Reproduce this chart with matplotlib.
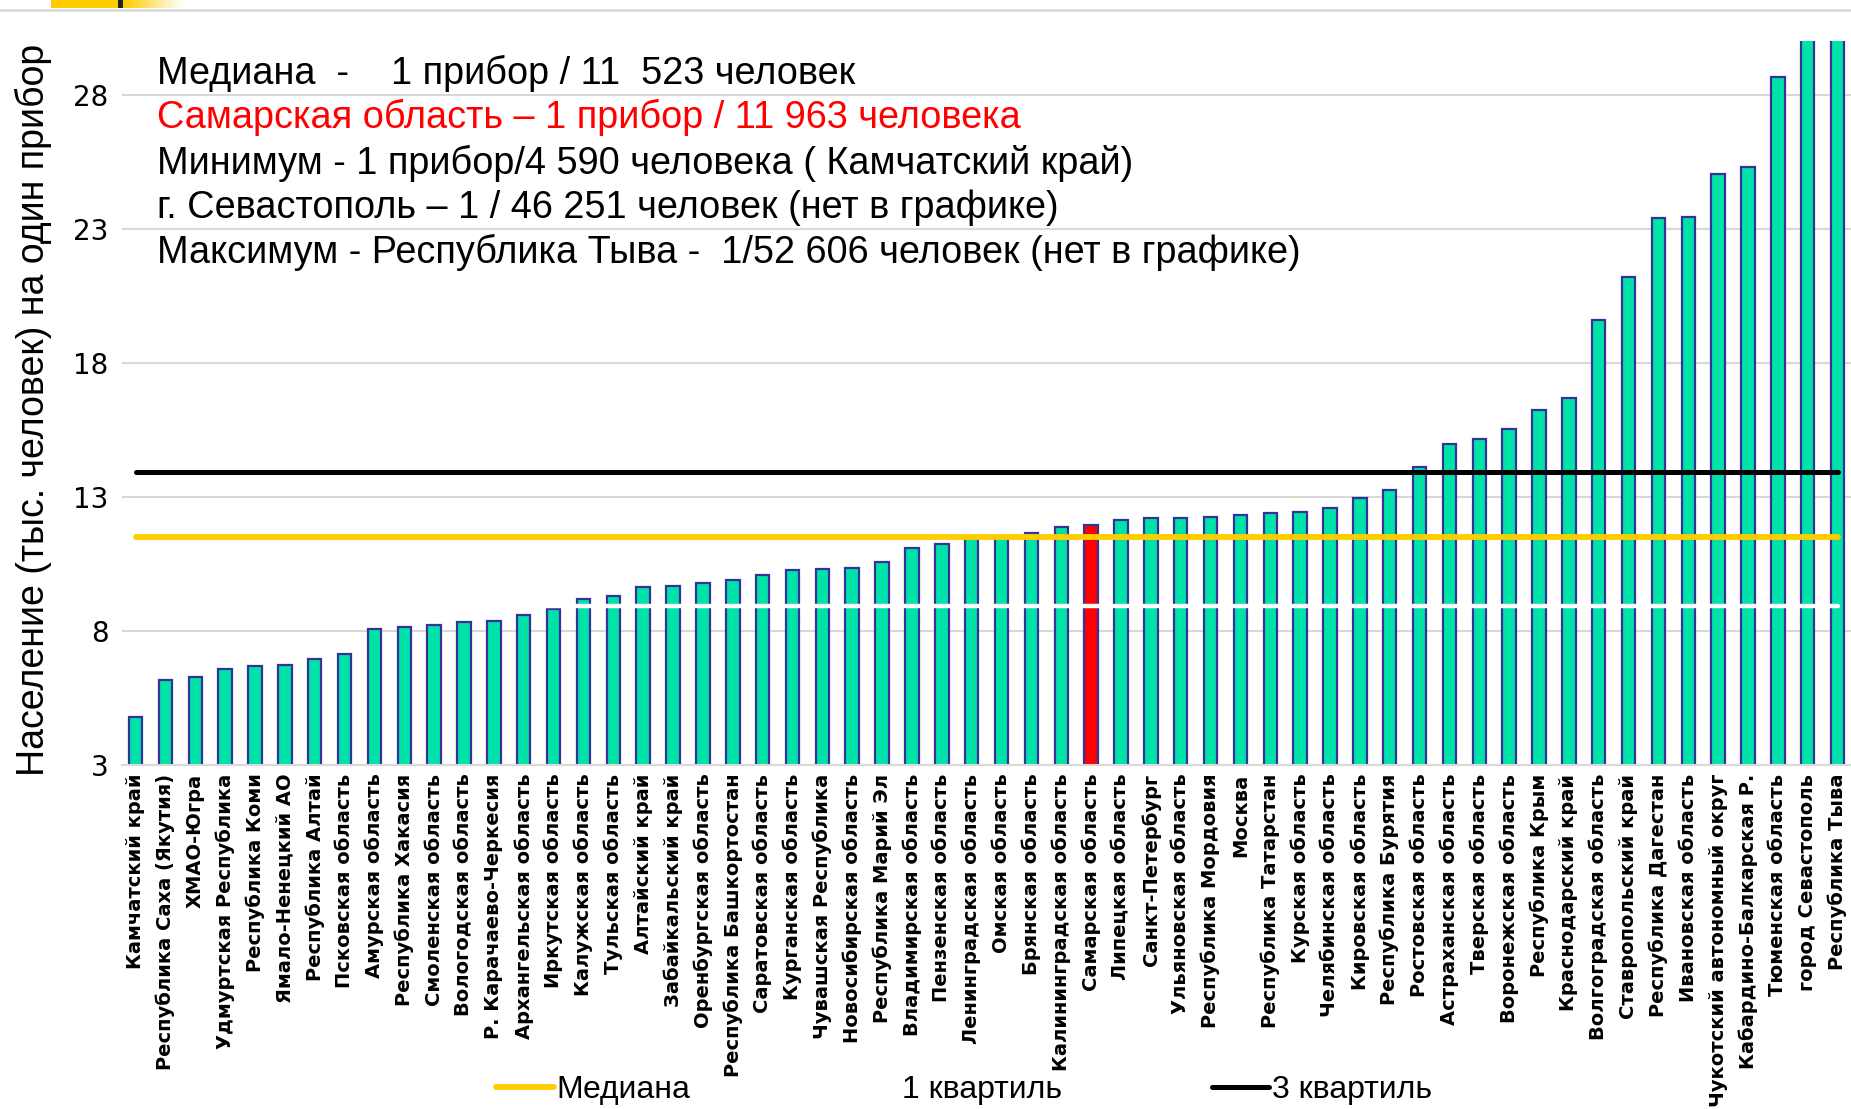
import matplotlib
matplotlib.use("Agg")
import matplotlib.pyplot as plt
from matplotlib import font_manager
from matplotlib.patches import Rectangle
from matplotlib.lines import Line2D
from matplotlib.colors import LinearSegmentedColormap
import numpy as np

regions = [
    "Камчатский край", "Республика Саха (Якутия)", "ХМАО-Югра", "Удмуртская Республика",
    "Республика Коми", "Ямало-Ненецкий АО", "Республика Алтай", "Псковская область",
    "Амурская область", "Республика Хакасия", "Смоленская область", "Вологодская область",
    "Р. Карачаево-Черкесия", "Архангельская область", "Иркутская область", "Калужская область",
    "Тульская область", "Алтайский край", "Забайкальский край", "Оренбургская область",
    "Республика Башкортостан", "Саратовская область", "Курганская область", "Чувашская Республика",
    "Новосибирская область", "Республика Марий Эл", "Владимирская область", "Пензенская область",
    "Ленинградская область", "Омская область", "Брянская область", "Калининградская область",
    "Самарская область", "Липецкая область", "Санкт-Петербург", "Ульяновская область",
    "Республика Мордовия", "Москва", "Республика Татарстан", "Курская область",
    "Челябинская область", "Кировская область", "Республика Бурятия", "Ростовская область",
    "Астраханская область", "Тверская область", "Воронежская область", "Республика Крым",
    "Краснодарский край", "Волгоградская область", "Ставропольский край", "Республика Дагестан",
    "Ивановская область", "Чукотский автономный округ", "Кабардино-Балкарская Р.", "Тюменская область",
    "город Севастополь", "Республика Тыва",
]

people_per_device = [
    4.80, 6.17, 6.30, 6.60, 6.70, 6.72, 6.96, 7.14,
    8.06, 8.15, 8.24, 8.33, 8.37, 8.59, 8.81, 9.20,
    9.30, 9.65, 9.69, 9.78, 9.91, 10.09, 10.26, 10.31,
    10.35, 10.57, 11.10, 11.23, 11.50, 11.54, 11.67, 11.89,
    11.96, 12.15, 12.20, 12.21, 12.24, 12.33, 12.42, 12.43,
    12.60, 12.95, 13.26, 14.10, 14.97, 15.15, 15.54, 16.25,
    16.69, 19.60, 21.20, 23.40, 23.43, 25.05, 25.30, 28.66,
    46.25, 52.61,
]

median_value = 11.523
quartile1_value = 8.94
quartile3_value = 13.95

y_ticks = [3, 8, 13, 18, 23, 28]

notes = [
    ("Медиана  -    1 прибор / 11  523 человек", "black"),
    ("Самарская область – 1 прибор / 11 963 человека", "red"),
    ("Минимум - 1 прибор/4 590 человека ( Камчатский край)", "black"),
    ("г. Севастополь – 1 / 46 251 человек (нет в графике)", "black"),
    ("Максимум - Республика Тыва -  1/52 606 человек (нет в графике)", "black"),
]
highlight = "Самарская область"

available = {f.name for f in font_manager.fontManager.ttflist}
narrow = "Liberation Sans Narrow" if "Liberation Sans Narrow" in available else (
    "DejaVu Sans Condensed" if "DejaVu Sans Condensed" in available else "Liberation Sans")

plt.rcParams["font.family"] = ["DejaVu Sans"]

fig = plt.figure(figsize=(18.51, 11.09), dpi=100)
ax = fig.add_axes([0.066, 0.31, 0.934, 0.653])

x = np.arange(len(regions))
colors = ["#FF0000" if r == highlight else "#00E3A8" for r in regions]
ax.bar(x, people_per_device, width=0.45, color=colors, edgecolor="#333399",
       linewidth=1.6, zorder=2)

l_med, = ax.plot([x[0], x[-1]], [median_value] * 2, color="#FFCC00", lw=4.2,
                 solid_capstyle="round", zorder=4, label="Медиана")
l_q1, = ax.plot([x[0], x[-1]], [quartile1_value] * 2, color="white", lw=3.2,
                solid_capstyle="round", zorder=4, label="1 квартиль")
l_q3, = ax.plot([x[0], x[-1]], [quartile3_value] * 2, color="black", lw=3.6,
                solid_capstyle="round", zorder=4, label="3 квартиль")

ax.set_ylim(3, 30)
ax.set_xlim(-0.45, len(regions) - 0.55)
ax.set_yticks(y_ticks)
ax.yaxis.grid(True, color="#D9D9D9", lw=1.5, zorder=0)
ax.set_axisbelow(True)
for s in ["top", "right", "left"]:
    ax.spines[s].set_visible(False)
ax.spines["bottom"].set_color("#D9D9D9")
ax.spines["bottom"].set_linewidth(1.5)
ax.tick_params(axis="y", length=0, labelsize=20, pad=10)
ax.tick_params(axis="x", length=0, pad=6)
ax.set_xticks(x)
ax.set_xticklabels(regions, rotation=90, fontsize=14, fontweight="bold")

fig.text(0.018, 0.63, "Население (тыс. человек) на один прибор", rotation=90,
         family=narrow, fontsize=27, ha="center", va="center")

ys = [0.066, 0.106, 0.147, 0.187, 0.228]
for (t, c), yy in zip(notes, ys):
    fig.text(0.085, 1 - yy, t, color=c, family=narrow, fontsize=27.3, ha="left", va="center")

leg = fig.legend(handles=[l_med, l_q1, l_q3], loc="center", bbox_to_anchor=(0.521, 0.017),
                 ncol=3, frameon=False, prop={"family": narrow, "size": 23},
                 handlelength=1.8, handletextpad=0.1, columnspacing=4.7)

# slide header decoration
fig.add_artist(Line2D([0, 1], [1 - 9.5 / 1109] * 2, color="#D9D9D9", lw=2))
fig.add_artist(Rectangle((51 / 1851, 1 - 8 / 1109), 67 / 1851, 8 / 1109, color="#FFCC00", lw=0))
fig.add_artist(Rectangle((118 / 1851, 1 - 8 / 1109), 5 / 1851, 8 / 1109, color="#222222", lw=0))
grad_ax = fig.add_axes([123 / 1851, 1 - 8 / 1109, 60 / 1851, 8 / 1109])
grad = np.linspace(0, 1, 64)[None, :]
cm = LinearSegmentedColormap.from_list("g", ["#FFCC00", "#FFFFFF"])
grad_ax.imshow(grad, aspect="auto", cmap=cm)
grad_ax.axis("off")

fig.savefig("out.png", dpi=100)
